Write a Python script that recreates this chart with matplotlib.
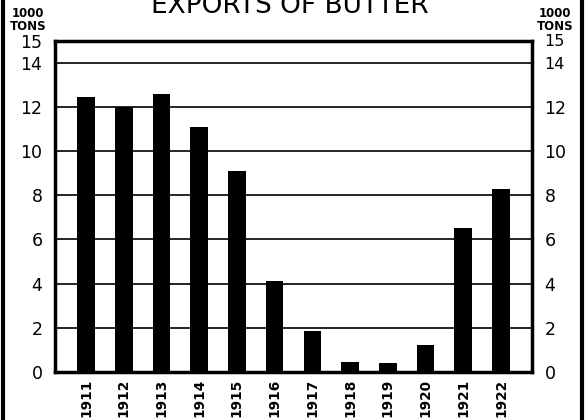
import matplotlib
matplotlib.use("Agg")
import matplotlib.pyplot as plt
from matplotlib.lines import Line2D

# exports of butter, 1000 tons
years = ['1911', '1912', '1913', '1914', '1915', '1916',
         '1917', '1918', '1919', '1920', '1921', '1922']
exports = [12.45, 12.0, 12.6, 11.1, 9.1, 4.1, 1.85, 0.47, 0.42, 1.2, 6.5, 8.3]
yticks = [0, 2, 4, 6, 8, 10, 12, 14, 15]

plt.rcParams['font.family'] = ['DejaVu Sans']

fig = plt.figure(figsize=(5.86, 4.2), dpi=100)
ax = fig.add_axes([55/586, 48/420, 477/586, 331.5/420])

x = list(range(len(years)))
ax.bar(x, exports, width=0.47, color='black', zorder=3)

ax.set_xlim(-0.82, 11.82)
ax.set_ylim(0, 15)
ax.set_yticks(yticks)
ax.set_yticklabels([str(v) for v in yticks], fontsize=12.5)
ax.set_xticks(x)
ax.set_xticklabels(years, rotation=90, fontsize=9.8, fontweight='bold')
ax.tick_params(axis='y', length=0, pad=9, labelright=True)
ax.tick_params(axis='x', length=0, pad=5)
for lab in ax.get_yticklabels()[-2:]:
    lab.set_fontsize(11.5)
ax.yaxis.grid(True, color='black', lw=1.2)
ax.set_axisbelow(True)
for s in ax.spines.values():
    s.set_linewidth(2.5)

fig.text(290/586, 1 - 13/420, 'EXPORTS OF BUTTER', ha='center', va='baseline',
         fontsize=19)
fig.text(28/586, 1 - 7/420, '1000\nTONS', ha='center', va='top',
         fontsize=8.5, fontweight='bold', linespacing=0.95)
fig.text(555/586, 1 - 7/420, '1000\nTONS', ha='center', va='top',
         fontsize=8.5, fontweight='bold', linespacing=0.95)

fig.add_artist(Line2D([3/586, 3/586], [0, 1], color='black', lw=3))
fig.add_artist(Line2D([582/586, 582/586], [0, 1], color='black', lw=3))

fig.savefig('out.png', dpi=100)
